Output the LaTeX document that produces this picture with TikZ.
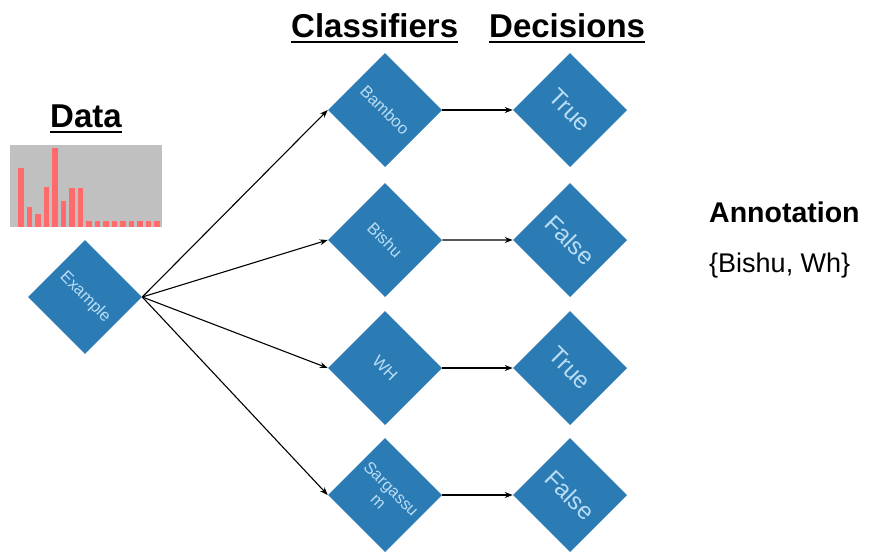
\documentclass[tikz,border=0pt]{standalone}
\usepackage{fontspec}
\setmainfont{Liberation Sans}
\usetikzlibrary{arrows.meta}
\definecolor{dblue}{HTML}{2B7BB5}
\definecolor{dtext}{HTML}{B9DDF5}
\definecolor{hgray}{HTML}{C0C0C0}
\definecolor{hred}{HTML}{FF6B6B}
\begin{document}
\begin{tikzpicture}[x=1pt,y=1pt,
  dia/.style={rectangle, fill=dblue, minimum size=80.6pt, inner sep=0pt, rotate=-45, text=dtext, align=center, font=\fontsize{16.5}{18}\selectfont},
  dec/.style={dia, font=\fontsize{24}{26}\selectfont},
  title/.style={anchor=base west, inner sep=0pt, font=\fontsize{33}{35}\selectfont\bfseries},
  uline/.style={line width=2pt},
  conn/.style={-{Stealth[length=8pt,width=6pt]}, line width=1.1pt},
  bar/.style={fill=hred, draw=none}]
\useasboundingbox (0,0) rectangle (889,-552);
% histogram
\fill[hgray] (10,-145) rectangle (162,-227);
\foreach \h [count=\i from 0] in {59,20,13,40,79,26,39,39,6,6,6,6,6,6,6,6,6}
  \fill[bar] ({18+8.5*\i},-227) rectangle ++(5.5,\h);
% titles
\node[title] (data) at (50,-127) {Data};
\draw[uline] ([yshift=-5pt]data.base west) -- ([yshift=-5pt]data.base east);
\node[title] (cls) at (291,-37) {Classifiers};
\draw[uline] ([yshift=-5pt]cls.base west) -- ([yshift=-5pt]cls.base east);
\node[title] (dcs) at (489,-37) {Decisions};
\draw[uline] ([yshift=-5pt]dcs.base west) -- ([yshift=-5pt]dcs.base east);
\node[anchor=base west, inner sep=0pt, font=\fontsize{28.5}{30}\selectfont\bfseries] (ann) at (709,-222) {Annotation};
\node[anchor=base west, inner sep=0pt, font=\fontsize{27}{30}\selectfont] (annv) at (709,-272) {\{Bishu, Wh\}};
% diamonds
\node[dia] (ex) at (85,-297) {Example};
\node[dia] (c1) at (385,-110) {Bamboo};
\node[dia] (c2) at (385,-240) {Bishu};
\node[dia] (c3) at (385,-368) {WH};
\node[dia] (c4) at (385,-495) {Sargassu\\m};
\node[dec] (d1) at (570,-110) {True};
\node[dec] (d2) at (570,-240) {False};
\node[dec] (d3) at (570,-368) {True};
\node[dec] (d4) at (570,-495) {False};
% connectors
\foreach \k in {1,2,3,4}{
  \draw[conn] (ex.north east) -- (c\k.south west);
  \draw[conn] (c\k.north east) -- (d\k.south west);
}
\end{tikzpicture}
\end{document}
